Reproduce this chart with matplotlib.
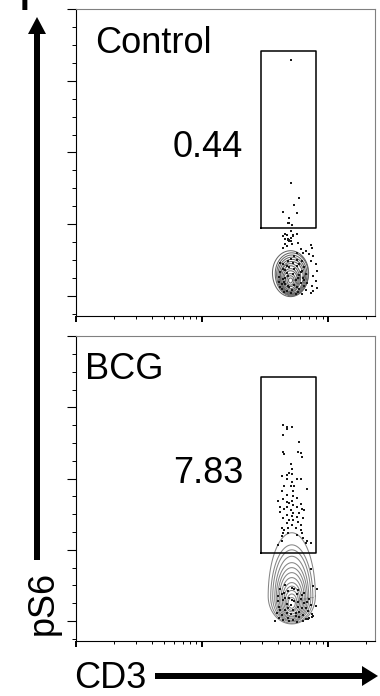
# plot.py
# Flow cytometry contour plots: pS6 vs CD3, Control and BCG

import numpy as np
import matplotlib
matplotlib.use("Agg")
import matplotlib.pyplot as plt
from matplotlib import ticker
from matplotlib.patches import FancyArrow

plt.rcParams["font.family"] = ["Liberation Sans", "DejaVu Sans"]

# gate (log10 CD3, pS6 scale) and gate frequencies
gate_x = (3.47, 3.90)
gate_y = (0.95, 3.42)
conditions = ["Control", "BCG"]
gate_pct = ["0.44", "7.83"]

# contour rings: centre log10 CD3, widest row, top, bottom, half width (decades)
ctrl_ring_cx = [3.70, 3.71, 3.71, 3.71, 3.71, 3.71, 3.70, 3.70, 3.70, 3.70, 3.70, 3.70, 3.70]
ctrl_ring_mid = [0.32, 0.31, 0.30, 0.29, 0.28, 0.27, 0.26, 0.25, 0.24, 0.24, 0.22, 0.22, 0.22]
ctrl_ring_top = [0.63, 0.60, 0.57, 0.54, 0.51, 0.48, 0.45, 0.42, 0.38, 0.35, 0.31, 0.28, 0.25]
ctrl_ring_bot = [-0.01, 0.00, 0.01, 0.02, 0.03, 0.04, 0.05, 0.06, 0.08, 0.10, 0.13, 0.15, 0.18]
ctrl_ring_hw = [0.143, 0.131, 0.120, 0.110, 0.100, 0.090, 0.080, 0.070, 0.061, 0.052, 0.040, 0.028, 0.016]

bcg_ring_cx = [3.71] * 13
bcg_ring_mid = [0.35, 0.33, 0.33, 0.32, 0.32, 0.31, 0.31, 0.29, 0.29, 0.28, 0.28, 0.26, 0.26]
bcg_ring_top = [1.24, 1.07, 1.00, 0.91, 0.82, 0.75, 0.68, 0.61, 0.54, 0.49, 0.43, 0.38, 0.33]
bcg_ring_bot = [-0.04, -0.03, -0.01, 0.00, 0.01, 0.03, 0.04, 0.06, 0.07, 0.10, 0.13, 0.15, 0.18]
bcg_ring_hw = [0.187, 0.167, 0.151, 0.135, 0.123, 0.111, 0.099, 0.087, 0.075, 0.063, 0.052, 0.040, 0.028]

# single events (log10 CD3, pS6)
ctrl_dot_x = [3.70, 3.70, 3.77, 3.73, 3.64, 3.75, 3.69, 3.68, 3.69, 3.71,
              3.70, 3.66, 3.72, 3.75, 3.66, 3.68, 3.70, 3.69, 3.69, 3.70, 3.68,
              3.64, 3.67, 3.72, 3.66, 3.67, 3.71, 3.76, 3.64, 3.78, 3.82, 3.86, 3.87,
              3.75, 3.80, 3.85, 3.88, 3.86, 3.90, 3.91, 3.88, 3.90, 3.87, 3.91, 3.88, 3.86,
              3.62, 3.64, 3.67, 3.61, 3.65, 3.68, 3.63, 3.71, 3.75, 3.78, 3.80, 3.79,
              3.75, 3.72, 3.69, 3.66, 3.77, 3.74, 3.67, 3.76, 3.81, 3.63, 3.70, 3.73, 3.79,
              3.64, 3.68, 3.77, 3.81, 3.62, 3.66, 3.73, 3.78, 3.82, 3.64, 3.68, 3.76,
              3.81, 3.62, 3.66, 3.73, 3.77, 3.82, 3.65, 3.70, 3.74, 3.79, 3.69, 3.72,
              3.67, 3.75, 3.83, 3.61]
ctrl_dot_y = [3.29, 1.57, 1.36, 1.27, 1.17, 1.16, 1.09, 1.01, 1.01, 0.99,
              0.91, 0.87, 0.85, 0.87, 0.80, 0.78, 0.81, 0.76, 0.78, 0.77, 0.79,
              0.84, 0.85, 0.84, 0.73, 0.70, 0.73, 0.74, 0.67, 0.66, 0.63, 0.71, 0.67,
              0.60, 0.60, 0.59, 0.56, 0.49, 0.45, 0.35, 0.28, 0.21, 0.14, 0.11, 0.07, 0.04,
              0.46, 0.38, 0.32, 0.27, 0.20, 0.14, 0.10, 0.08, 0.13, 0.18, 0.25, 0.35,
              0.42, 0.46, 0.41, 0.25, 0.29, 0.22, 0.07, 0.06, 0.14, 0.17, 0.52, 0.55, 0.49,
              0.44, 0.48, 0.45, 0.40, 0.33, 0.36, 0.38, 0.34, 0.30, 0.24, 0.28, 0.25,
              0.22, 0.13, 0.17, 0.15, 0.10, 0.08, 0.05, 0.04, 0.03, 0.02, 0.12, 0.30,
              0.42, 0.50, 0.18, 0.20]

bcg_dot_x = [3.64, 3.67, 3.71, 3.67, 3.64, 3.77,
             3.64, 3.65, 3.76, 3.78, 3.79,
             3.70, 3.71, 3.69, 3.71, 3.67, 3.63, 3.67, 3.75, 3.78, 3.71, 3.65, 3.70,
             3.73, 3.83, 3.63, 3.72, 3.67, 3.72, 3.64, 3.75, 3.60, 3.67, 3.69, 3.71,
             3.72, 3.78, 3.62, 3.67, 3.75, 3.65, 3.70, 3.79, 3.81, 3.62, 3.72, 3.77,
             3.67, 3.71, 3.75, 3.64, 3.80, 3.69, 3.72, 3.76, 3.67, 3.71, 3.78, 3.63,
             3.65, 3.68, 3.74, 3.78, 3.64, 3.79, 3.63, 3.80, 3.83, 3.63, 3.60, 3.82,
             3.68, 3.75, 3.83, 3.86, 3.86, 3.88, 3.91, 3.90, 3.88, 3.84, 3.87, 3.58,
             3.62, 3.66, 3.71, 3.76, 3.81, 3.60, 3.64, 3.69, 3.73, 3.78, 3.83, 3.61,
             3.66, 3.70, 3.74, 3.79, 3.84, 3.63, 3.68, 3.72, 3.77, 3.82, 3.65, 3.75,
             3.70, 3.80, 3.67, 3.76, 3.86, 3.59,
             3.60, 3.63, 3.68, 3.73, 3.79, 3.85, 3.62, 3.67, 3.72, 3.77, 3.82, 3.87,
             3.64, 3.69, 3.75, 3.80, 3.85, 3.66, 3.71, 3.76, 3.81, 3.61, 3.74, 3.68]
bcg_dot_y = [2.75, 2.72, 2.73, 2.69, 2.61, 2.51,
             2.37, 2.34, 2.38, 2.36, 2.30,
             2.20, 2.13, 2.08, 2.06, 2.05, 2.04, 1.99, 1.99, 1.99, 1.95, 1.90, 1.90,
             1.90, 1.85, 1.83, 1.83, 1.77, 1.76, 1.72, 1.73, 1.69, 1.67, 1.66, 1.69,
             1.63, 1.65, 1.60, 1.60, 1.60, 1.58, 1.56, 1.58, 1.56, 1.53, 1.52, 1.52,
             1.49, 1.48, 1.46, 1.45, 1.45, 1.42, 1.42, 1.39, 1.38, 1.35, 1.35, 1.31,
             1.28, 1.30, 1.31, 1.28, 1.24, 1.23, 1.19, 1.17, 1.13, 1.12, 1.07, 1.10,
             1.24, 1.21, 1.12, 1.10, 0.73, 0.49, 0.45, 0.21, 0.07, 0.03, 0.06, 0.00,
             0.45, 0.50, 0.47, 0.44, 0.40, 0.35, 0.30, 0.33, 0.28, 0.31, 0.27, 0.20,
             0.16, 0.22, 0.12, 0.18, 0.14, 0.08, 0.05, 0.02, 0.06, 0.03, 0.40, 0.38,
             0.10, 0.09, 0.24, 0.20, 0.22, 0.12,
             0.28, 0.38, 0.42, 0.45, 0.36, 0.31, 0.15, 0.12, 0.15, 0.13, 0.19, 0.10,
             0.02, 0.00, -0.01, 0.00, 0.04, 0.33, 0.29, 0.27, 0.25, 0.05, 0.07, 0.19]

ylim = (-0.28, 4.0)
xlim = (1e2, 10 ** 4.37)


def egg(ax, cx, mid, top, bot, hw, color):
    """Closed egg-shaped ring drawn in log10 x space"""
    t = np.linspace(0, np.pi, 60)
    xu = cx + hw * np.cos(t)
    yu = mid + (top - mid) * np.sin(t)
    xl = cx + hw * np.cos(t + np.pi)
    yl = mid - (mid - bot) * np.sin(t)
    xs = np.concatenate([xu, xl])
    ys = np.concatenate([yu, yl])
    ax.plot(10 ** xs, ys, color=color, lw=0.75)


def style_axes(ax):
    ax.set_xscale("log")
    ax.set_xlim(*xlim)
    ax.set_ylim(*ylim)
    ax.xaxis.set_major_locator(ticker.LogLocator(base=10))
    ax.xaxis.set_minor_locator(ticker.LogLocator(base=10, subs=np.arange(2, 10)))
    ax.xaxis.set_major_formatter(ticker.NullFormatter())
    ax.xaxis.set_minor_formatter(ticker.NullFormatter())
    ax.yaxis.set_major_locator(ticker.MultipleLocator(1))
    ax.yaxis.set_minor_locator(ticker.AutoMinorLocator(4))
    ax.yaxis.set_major_formatter(ticker.NullFormatter())
    ax.tick_params(axis="y", which="major", direction="out", length=6.5, width=0.8)
    ax.tick_params(axis="y", which="minor", direction="out", length=3.2, width=0.7)
    ax.tick_params(axis="x", which="major", direction="out", length=4.3, width=1.4)
    ax.tick_params(axis="x", which="minor", direction="out", length=2.2, width=0.7)
    for side in ("top", "right"):
        ax.spines[side].set_color("#808080")
    for side in ("left", "bottom"):
        ax.spines[side].set_color("black")
    for s in ax.spines.values():
        s.set_linewidth(0.8)


fig = plt.figure(figsize=(3.8, 6.96), dpi=100)
ax_top = fig.add_axes([0.2, 0.546, 0.787, 0.441])
ax_bot = fig.add_axes([0.2, 0.079, 0.787, 0.438])

panels = [
    (ax_top, ctrl_ring_cx, ctrl_ring_mid, ctrl_ring_top, ctrl_ring_bot, ctrl_ring_hw,
     ctrl_dot_x, ctrl_dot_y, "#666666"),
    (ax_bot, bcg_ring_cx, bcg_ring_mid, bcg_ring_top, bcg_ring_bot, bcg_ring_hw,
     bcg_dot_x, bcg_dot_y, "#858585"),
]

label_x = [0.064, 0.030]
for i, (ax, cx, mid, top, bot, hw, dx, dy, ccol) in enumerate(panels):
    style_axes(ax)
    for r in range(len(cx)):
        egg(ax, cx[r], mid[r], top[r], bot[r], hw[r], ccol)
    ax.scatter(10 ** np.array(dx), dy, s=1.6, marker="s", lw=0, color="#1a1a1a", zorder=3)
    gx = [10 ** gate_x[0], 10 ** gate_x[1], 10 ** gate_x[1], 10 ** gate_x[0], 10 ** gate_x[0]]
    gy = [gate_y[0], gate_y[0], gate_y[1], gate_y[1], gate_y[0]]
    ax.plot(gx, gy, color="black", lw=1.1, zorder=4)
    ax.text(label_x[i], 0.858, conditions[i], transform=ax.transAxes,
            ha="left", va="baseline", fontsize=26)
    ax.text(0.559, 0.518, gate_pct[i], transform=ax.transAxes,
            ha="right", va="baseline", fontsize=26)

# axis arrows, drawn in inches on the figure
inch = fig.dpi_scale_trans
fig.add_artist(FancyArrow(0.37, 1.36, 0, 5.43, width=0.06, head_width=0.18,
                          head_length=0.17, length_includes_head=True,
                          transform=inch, color="black", lw=0))
fig.add_artist(FancyArrow(1.55, 0.20, 2.23, 0, width=0.06, head_width=0.20,
                          head_length=0.16, length_includes_head=True,
                          transform=inch, color="black", lw=0))

fig.text(0.53, 0.61, "pS6", transform=inch, rotation=90, rotation_mode="anchor",
         ha="left", va="baseline", fontsize=26)
fig.text(0.74, 0.08, "CD3", transform=inch, ha="left", va="baseline", fontsize=26)
# clipped panel letter at the top-left corner
fig.text(0.20, 6.86, "I", transform=inch, ha="left", va="baseline",
         fontsize=25, fontweight="bold")

fig.savefig("out.png", dpi=100)
